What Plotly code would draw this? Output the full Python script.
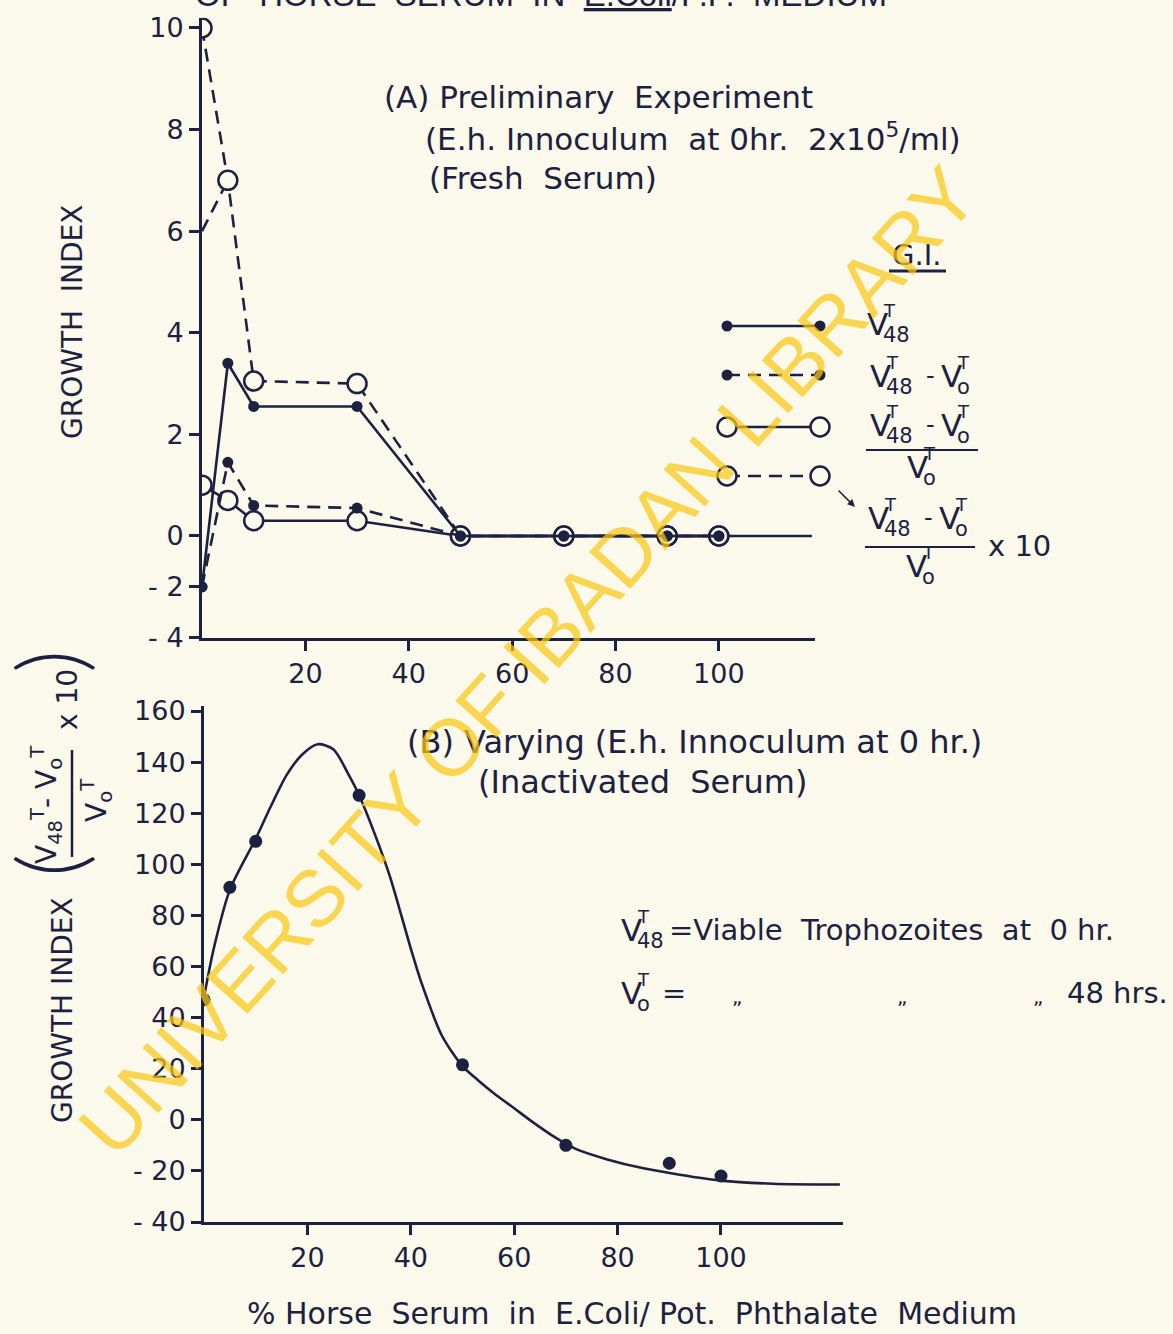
import plotly.graph_objects as go

W, H = 1173, 1334
INK = "#1d2140"
BG = "#fbf9ec"
FONT = "DejaVu Sans"

# ---------------- Panel A data (Preliminary experiment) ----------------
pct_a = [0, 5, 10, 30, 50, 70, 90, 100]
gi_v48 = [-2, 3.4, 2.55, 2.55, 0, 0, 0, 0]
gi_diff = [-2, 1.45, 0.6, 0.55, 0, 0, 0, 0]
gi_ratio = [1.0, 0.7, 0.3, 0.3, 0, 0, 0, 0]
gi_ratio10 = [10, 7, 3.05, 3.0, 0, 0, 0, 0]
stray_x = [0, 5]
stray_y = [6, 7]
zero_x = [50, 118]
zero_y = [0, 0]
ticks_a = [-4, -2, 0, 2, 4, 6, 8, 10]
ticktext_a = ["- 4", "- 2", "0", "2", "4", "6", "8", "10"]

# ---------------- Panel B data (Varying inoculum) ----------------
pct_b = [0, 5, 10, 30, 50, 70, 90, 100]
gi_b = [47, 91, 109, 127, 21.5, -10, -17, -22]
curve_x = [0, 2, 5, 10, 13, 16, 19, 22, 25, 28, 30, 33, 36, 40, 42, 46, 50, 53, 56,
           60, 64, 68, 72, 78, 85, 92, 100, 110, 123]
curve_y = [48, 68, 90, 110, 123, 135, 143, 147, 145, 135, 127, 112, 95, 67, 54, 33, 21,
           15.5, 10.5, 4.5, -1.5, -7, -11.5, -15.5, -19, -21.5, -23.8, -25, -25.3]
ticks_b = [-40, -20, 0, 20, 40, 60, 80, 100, 120, 140, 160]
ticktext_b = ["- 40", "- 20", "0", "20", "40", "60", "80", "100", "120", "140", "160"]
ticks_x = [20, 40, 60, 80, 100]


def ta(v):
    # panel A axis is compressed by half below zero
    return v if v >= 0 else v / 2.0


def px(x):
    return x / W


def py(y):
    return 1 - y / H


fig = go.Figure()

LW = 2.6
DASH = "13px,8px"
open_marker = dict(symbol="circle", size=19, color=BG, line=dict(color=INK, width=2.5))
dot_marker = dict(symbol="circle", size=11, color=INK, line=dict(color=INK, width=0))

# zero baseline extension
fig.add_trace(go.Scatter(x=zero_x, y=[ta(v) for v in zero_y], mode="lines",
                         line=dict(color=INK, width=LW), xaxis="x", yaxis="y"))
fig.add_trace(go.Scatter(x=stray_x, y=[ta(v) for v in stray_y], mode="lines",
                         line=dict(color=INK, width=LW, dash=DASH), xaxis="x", yaxis="y"))
# open-circle series first
fig.add_trace(go.Scatter(x=pct_a, y=[ta(v) for v in gi_ratio10], mode="lines+markers",
                         line=dict(color=INK, width=LW, dash=DASH), marker=open_marker,
                         xaxis="x", yaxis="y"))
fig.add_trace(go.Scatter(x=pct_a, y=[ta(v) for v in gi_ratio], mode="lines+markers",
                         line=dict(color=INK, width=LW), marker=open_marker,
                         xaxis="x", yaxis="y"))
fig.add_trace(go.Scatter(x=pct_a, y=[ta(v) for v in gi_diff], mode="lines+markers",
                         line=dict(color=INK, width=LW, dash=DASH), marker=dot_marker,
                         xaxis="x", yaxis="y"))
fig.add_trace(go.Scatter(x=pct_a, y=[ta(v) for v in gi_v48], mode="lines+markers",
                         line=dict(color=INK, width=LW), marker=dot_marker,
                         xaxis="x", yaxis="y"))

# Panel B
fig.add_trace(go.Scatter(x=curve_x, y=curve_y, mode="lines",
                         line=dict(color=INK, width=LW, shape="spline", smoothing=0.8),
                         xaxis="x2", yaxis="y2"))
fig.add_trace(go.Scatter(x=pct_b, y=gi_b, mode="markers",
                         marker=dict(symbol="circle", size=13, color=INK),
                         xaxis="x2", yaxis="y2"))

# Legend glyphs (pixel overlay axes)
leg_rows = [(326, "solid", dot_marker), (375, DASH, dot_marker),
            (427, "solid", open_marker), (476, DASH, open_marker)]
for yy, dash, mk in leg_rows:
    fig.add_trace(go.Scatter(x=[727, 820], y=[yy, yy], mode="lines+markers",
                             line=dict(color=INK, width=LW, dash=dash), marker=mk,
                             xaxis="x3", yaxis="y3"))

axis_common = dict(showline=True, linewidth=3, linecolor=INK, ticks="outside",
                   ticklen=10, tickwidth=3, tickcolor=INK, showgrid=False, zeroline=False,
                   automargin=False,
                   tickfont=dict(family=FONT, size=27, color=INK))

fig.update_layout(
    width=W, height=H, margin=dict(l=0, r=0, t=0, b=0, pad=0, autoexpand=False),
    paper_bgcolor=BG, plot_bgcolor="rgba(0,0,0,0)", showlegend=False,
    xaxis=dict(domain=[px(202), px(815)], range=[0, 118.6], anchor="y",
               tickvals=ticks_x, **axis_common),
    yaxis=dict(domain=[py(637.6), py(17.8)], range=[-2, 10.2], anchor="x",
               tickvals=[ta(v) for v in ticks_a], ticktext=ticktext_a, **axis_common),
    xaxis2=dict(domain=[px(204), px(843)], range=[0, 123.6], anchor="y2",
                tickvals=ticks_x, **axis_common),
    yaxis2=dict(domain=[py(1222), py(705.9)], range=[-40, 162], anchor="x2",
                tickvals=ticks_b, ticktext=ticktext_b, **axis_common),
    xaxis3=dict(domain=[0, 1], range=[0, W], visible=False, anchor="y3", fixedrange=True,
                automargin=False),
    yaxis3=dict(domain=[0, 1], range=[H, 0], visible=False, anchor="x3", fixedrange=True,
                automargin=False),
)

ann = []
shapes = []


def text(x, y, s, size=30, xanchor="left", angle=0, family=FONT, color=INK, weight=None):
    f = dict(family=family, size=size, color=color)
    if weight:
        f["weight"] = weight
    ann.append(dict(x=px(x), y=py(y), xref="paper", yref="paper", text=s, showarrow=False,
                    xanchor=xanchor, yanchor="middle", textangle=angle, font=f))


def hline(x0, x1, y, w=2.2):
    shapes.append(dict(type="line", xref="paper", yref="paper", x0=px(x0), x1=px(x1),
                       y0=py(y), y1=py(y), line=dict(color=INK, width=w)))


def vsym(x, y, sub, s=32):
    # V with stacked superscript T and subscript
    text(x, y, "V", size=s)
    text(x + 0.5 * s, y - 0.42 * s, "T", size=int(0.6 * s))
    text(x + 0.52 * s, y + 0.36 * s, sub, size=int(0.7 * s))


def vdiff(x, y, s=32):
    vsym(x, y, "48", s)
    text(x + 1.8 * s, y, "-", size=int(0.8 * s))
    vsym(x + 2.3 * s, y, "o", s)


# Cut-off heading at top
text(541, -6, "OF  HORSE  SERUM  IN  <u>E.Coli</u>/P.P.  MEDIUM", size=33,
     xanchor="center", family="Liberation Sans")

# Panel A annotations
text(382, 97, "(A) Preliminary  Experiment", size=31)
text(423, 137, "(E.h. Innoculum  at 0hr.  2x10<sup>5</sup>/ml)", size=31)
text(427, 178, "(Fresh  Serum)", size=31)
text(917, 255, "G.I.", size=29, xanchor="center")
hline(889, 946, 271, 3)

vsym(865, 324, "48", 31)
vdiff(868, 376, 31)
vdiff(868, 425, 31)
hline(866, 978, 450, 2.2)
vsym(905, 467, "o", 31)
vdiff(866, 518, 31)
hline(865, 975, 547, 2.2)
vsym(904, 566, "o", 31)
text(986, 546, "x 10", size=29)
ann.append(dict(x=px(855), y=py(507), xref="paper", yref="paper", text="", showarrow=True,
                ax=-18, ay=-18, arrowhead=2, arrowsize=1, arrowwidth=1.5, arrowcolor=INK))

# Panel A y title
text(72, 322, "GROWTH  INDEX", size=28, xanchor="center", angle=-90)

# Panel B annotations
text(405, 742, "(B) Varying (E.h. Innoculum at 0 hr.)", size=32)
text(476, 782, "(Inactivated  Serum)", size=32)
vsym(619, 930, "48", 31)
text(667, 930, "=Viable  Trophozoites  at  0 hr.", size=29)
vsym(619, 993, "o", 31)
text(660, 993, "=", size=29)
text(737, 997, "\u201e", size=20, xanchor="center")
text(902, 997, "\u201e", size=20, xanchor="center")
text(1038, 997, "\u201e", size=20, xanchor="center")
text(1065, 993, "48 hrs.", size=29)

# Panel B y title (rotated)
text(62, 1010, "GROWTH INDEX", size=28, xanchor="center", angle=-90)
text(48, 866, "(", size=90, xanchor="center", angle=-90, family="Lato", weight=300)
text(48, 662, ")", size=90, xanchor="center", angle=-90, family="Lato", weight=300)
text(46, 805, "V<sub>48</sub><sup>T</sup>- V<sub>o</sub><sup>T</sup>", size=28,
     xanchor="center", angle=-90)
shapes.append(dict(type="line", xref="paper", yref="paper", x0=px(72), x1=px(72),
                   y0=py(750), y1=py(857), line=dict(color=INK, width=2.5)))
text(96, 800, "V<sub>o</sub><sup>T</sup>", size=28, xanchor="center", angle=-90)
text(68, 700, "x 10", size=28, xanchor="center", angle=-90)

# x axis title
text(632, 1313, "% Horse  Serum  in  E.Coli/ Pot.  Phthalate  Medium", size=30,
     xanchor="center")

# Watermark
ann.append(dict(x=px(528), y=py(662), xref="paper", yref="paper",
                text="UNIVERSITY OF IBADAN LIBRARY", showarrow=False, textangle=-48,
                xanchor="center", yanchor="middle",
                font=dict(family="Liberation Sans", size=80, color="rgba(248,198,20,0.72)")))

fig.update_layout(annotations=ann, shapes=shapes)
fig.write_html("out.html")
